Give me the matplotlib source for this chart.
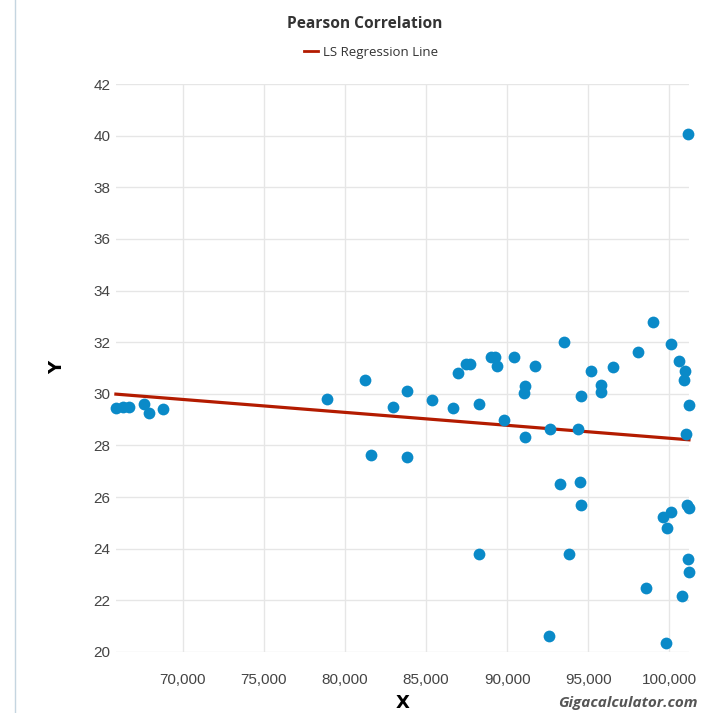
import matplotlib.pyplot as plt
import numpy as np
from matplotlib.ticker import FuncFormatter
from matplotlib.lines import Line2D

# data
x_vals = [65883, 66299, 66715, 67645, 67893, 68780, 78873, 81230, 81620, 82942,
          83854, 83854, 85386, 86645, 86974, 87433, 87700, 88258, 88258, 88984,
          89250, 89356, 89809, 90429, 91006, 91111, 91068, 91731, 92556, 92618,
          93239, 93487, 93840, 94355, 94479, 94550, 94560, 95143, 95807, 95807,
          96526, 98077, 98555, 98970, 99591, 99795, 99857, 100105, 100105, 100620,
          100788, 100893, 100974, 100992, 101098, 101141, 101172, 101180, 101180, 101203]
y_vals = [29.45, 29.49, 29.50, 29.60, 29.25, 29.42, 29.79, 30.55, 27.63, 29.51,
          30.10, 27.54, 29.76, 29.46, 30.79, 31.16, 31.16, 29.59, 23.81, 31.44,
          31.44, 31.08, 28.97, 31.44, 30.03, 30.31, 28.31, 31.08, 20.61, 28.65,
          26.51, 32.02, 23.81, 28.63, 26.57, 25.71, 29.93, 30.88, 30.34, 30.09,
          31.04, 31.62, 22.48, 32.79, 25.23, 20.36, 24.80, 25.41, 31.93, 31.28,
          22.16, 30.54, 30.89, 28.46, 25.71, 23.60, 40.06, 25.58, 23.09, 29.57]
# regression line values at the x-range ends, as drawn in the reference
reg_y = [29.99, 28.22]
x_ticks = [70000, 75000, 80000, 85000, 90000, 95000, 100000]
y_ticks = list(range(20, 43, 2))

x = np.array(x_vals)
y = np.array(y_vals)
line_x = [x.min(), x.max()]

fig = plt.figure(figsize=(7.11, 7.13), dpi=100)
ax = fig.add_axes([0.163, 0.0856, 0.806, 0.7964])

ax.scatter(x, y, s=72, color='#0a8ac8', zorder=3, linewidths=0, clip_on=False)
ax.plot(line_x, reg_y, color='#b31b00', linewidth=2.3, zorder=2, clip_on=False)

ax.set_xlim(x.min(), x.max())
ax.set_ylim(20, 42)
ax.set_xticks(x_ticks)
ax.set_yticks(y_ticks)
ax.xaxis.set_major_formatter(FuncFormatter(lambda v, p: f"{int(v):,}"))
ax.grid(True, color='#e6e6e6', linewidth=1)
ax.set_axisbelow(True)
for s in ax.spines.values():
    s.set_visible(False)
ax.tick_params(length=0, labelsize=11, labelcolor='#444444')
for lbl in ax.get_xticklabels() + ax.get_yticklabels():
    lbl.set_family('Liberation Sans')
ax.tick_params(axis='x', pad=15)
ax.tick_params(axis='y', pad=4)

fig.text(0.566, 0.002, 'X', fontsize=13, fontweight='bold', ha='center', va='bottom')
fig.text(0.08, 0.484, 'Y', fontsize=13, fontweight='bold', ha='center', va='center', rotation=90)
fig.text(0.513, 0.967, 'Pearson Correlation', fontsize=11.2, fontweight='bold',
         color='#333333', ha='center', va='center', family='Open Sans')
fig.text(0.981, 0.004, 'Gigacalculator.com', fontsize=11, fontweight='bold', style='italic',
         color='#555555', ha='right', va='bottom', family='Open Sans')

handle = Line2D([], [], color='#b31b00', linewidth=2)
fig.legend([handle], ['LS Regression Line'], loc='center', bbox_to_anchor=(0.522, 0.927),
           frameon=False, handlelength=1.1, handletextpad=0.4,
           prop={'family': 'Open Sans', 'size': 9.5}, labelcolor='#333333')

# left border of the page
fig.add_artist(Line2D([0.021, 0.021], [0, 1], color='#c5d5e0', linewidth=1, transform=fig.transFigure))

plt.savefig('out.png', dpi=100)
